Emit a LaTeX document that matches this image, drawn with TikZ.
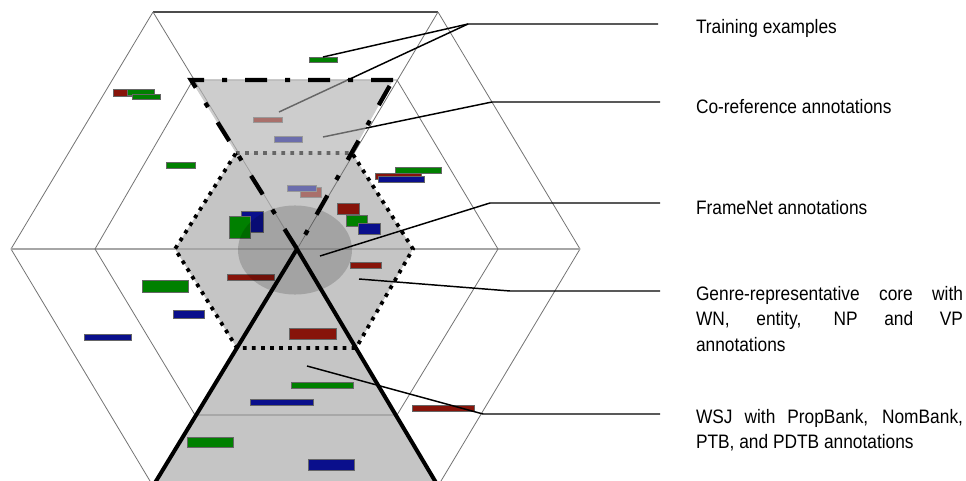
\documentclass[tikz,border=0pt]{standalone}
\usepackage{fontspec}
\setmainfont{Liberation Sans}[FakeStretch=0.89]
\usetikzlibrary{fit}
\definecolor{bgreen}{RGB}{0,128,0}
\definecolor{bblue}{RGB}{10,15,140}
\definecolor{bred}{RGB}{135,20,10}
\definecolor{fillgray}{RGB}{197,197,197}
\definecolor{topgray}{RGB}{207,207,207}
\newcommand{\cbar}[6]{\node[#1, fit={(#3,#4) (#5,#6)}] (#2) {};}
\begin{document}
\begin{tikzpicture}[x=0.75pt,y=-0.75pt,
  gridline/.style={draw=black!55, line width=0.6pt},
  midline/.style={draw=black!35, line width=1.1pt},
  topline/.style={draw=black!70, line width=0.9pt},
  hexfill/.style={fill=fillgray},
  topfill/.style={fill=topgray},
  bar/.style={rectangle, draw=black!60, line width=0.5pt, inner sep=0pt, outer sep=0pt},
  gbar/.style={bar, fill=bgreen},
  bbar/.style={bar, fill=bblue},
  rbar/.style={bar, fill=bred},
  leader/.style={draw=black, line width=1.1pt},
  veil/.style={fill=black!20, fill opacity=0.5},
  fnshade/.style={fill=black, fill opacity=0.17},
  dotborder/.style={draw=black, line width=2.8pt, dash pattern=on 2.8pt off 4pt},
  dashdotborder/.style={draw=black, line width=3.2pt, dash pattern=on 16.5pt off 13.5pt on 3.75pt off 13.5pt},
  wsjborder/.style={draw=black, line width=3pt},
  lab/.style={inner sep=0pt, outer sep=0pt, anchor=base west, font=\fontsize{14.6pt}{19.2pt}\selectfont}
]
\useasboundingbox (0,0) rectangle (966,481);
\clip (0,0) rectangle (966,481);

% key points
\coordinate (O) at (297,249);
\coordinate (ot1) at (153,12);  \coordinate (ot2) at (438,12);
\coordinate (or) at (580,249);  \coordinate (ol) at (11,249);
\coordinate (ob1) at (153,486); \coordinate (ob2) at (438,486);
\coordinate (it1) at (193,80);  \coordinate (it2) at (397,80);
\coordinate (ir) at (498,249);  \coordinate (il) at (95,249);
\coordinate (ib1) at (195,415); \coordinate (ib2) at (397,415);
\coordinate (d1) at (191,80);   \coordinate (d2) at (393,80);
\coordinate (h1) at (236,153);  \coordinate (h2) at (352,153);
\coordinate (h3) at (413,249);  \coordinate (h4) at (356,348);
\coordinate (h5) at (237,348);  \coordinate (h6) at (175,249);
\coordinate (w1) at (150,491);  \coordinate (w2) at (441,491);

% fills
\fill[hexfill] (h1)--(h2)--(h3)--(h4)--(h5)--(h6)--cycle;
\fill[hexfill] (O)--(w2)--(w1)--cycle;
\fill[topfill] (d1)--(d2)--(h2)--(h1)--cycle;

% grid lines
\draw[gridline] (ot2)--(or)--(ob2)--(ob1)--(ol)--(ot1);
\draw[topline] (ot1)--(ot2);
\draw[gridline] (ot1)--(O)--(ot2);
\draw[gridline] (ob1)--(O)--(ob2);
\draw[midline] (ol)--(or);
\draw[gridline] (it1)--(it2)--(ir)--(ib2)--(ib1)--(il)--cycle;

% bars
\cbar{rbar}{r1}{113}{89}{135}{96}
\cbar{gbar}{g2}{127}{89}{154}{95}
\cbar{gbar}{g3}{132}{94}{160}{99}
\cbar{gbar}{g1}{309}{57}{337}{62}
\cbar{gbar}{g4}{166}{162}{195}{168}
\cbar{rbar}{r2}{253}{117}{282}{122}
\cbar{bbar}{b1}{274}{136}{302}{142}
\cbar{rbar}{r3}{300}{187}{321}{197}
\cbar{bbar}{b2}{287}{185}{316}{191}
\cbar{rbar}{r4}{375}{173}{421}{179}
\cbar{gbar}{g5}{395}{167}{441}{173}
\cbar{bbar}{b3}{378}{176}{424}{182}
\cbar{bbar}{b4}{241}{211}{263}{232}
\cbar{gbar}{g6}{229}{216}{250}{238}
\cbar{rbar}{r5}{337}{203}{359}{214}
\cbar{gbar}{g7}{346}{215}{367}{226}
\cbar{bbar}{b5}{358}{223}{380}{234}
\cbar{rbar}{r6}{350}{262}{381}{268}
\cbar{rbar}{r7}{227}{274}{274}{280}
\cbar{gbar}{g8}{142}{280}{188}{292}
\cbar{bbar}{b6}{173}{310}{204}{318}
\cbar{bbar}{b7}{84}{334}{131}{340}
\cbar{rbar}{r8}{289}{328}{336}{339}
\cbar{gbar}{g9}{291}{382}{353}{388}
\cbar{bbar}{b8}{250}{399}{313}{405}
\cbar{rbar}{r9}{412}{405}{474}{411}
\cbar{gbar}{g10}{187}{437}{233}{447}
\cbar{bbar}{b9}{308}{459}{354}{470}

% leader coordinates
\coordinate (t1) at (468,24);  \coordinate (t2) at (658,24);  \coordinate (t3) at (279,112);
\coordinate (c0) at (323,137); \coordinate (c1) at (492,102); \coordinate (c2) at (660,102);
\coordinate (f0) at (320,256); \coordinate (f1) at (490,203); \coordinate (f2) at (660,203);
\coordinate (gr0) at (359,279);\coordinate (gr1) at (510,291);\coordinate (gr2) at (660,291);
\coordinate (ws0) at (307,366);\coordinate (ws1) at (483,414);\coordinate (ws2) at (660,414);

% leaders under the veil
\draw[leader] (g1.north)--(t1)--(t2);
\draw[leader] (t3)--(t1);
\draw[leader] (c0)--(c1)--(c2);

% dotted core hexagon
\draw[dotborder] (h1)--(h2)--(h3)--(h4)--(h5)--(h6)--cycle;

% translucent co-reference triangle
\fill[veil] (d1)--(d2)--(O)--cycle;

% FrameNet ellipse
\fill[fnshade] (295,250) ellipse [x radius=42.75pt, y radius=33.4pt];

% borders
\draw[dashdotborder] (d2)--(d1)--(O)--cycle;
\draw[wsjborder] (w1)--(O)--(w2);

% leaders on top
\draw[leader] (f0)--(f1)--(f2);
\draw[leader] (gr0)--(gr1)--(gr2);
\draw[leader] (ws0)--(ws1)--(ws2);

% labels
\node[lab] (ltrain) at (696,34) {Training examples};
\node[lab] (lcoref) at (696,114) {Co-reference annotations};
\node[lab] (lfn) at (696,214) {FrameNet annotations};
\node[lab] (lgenre) at (696,300) {\parbox[t]{200.25pt}{\makebox[\linewidth][s]{Genre-representative core with}\\\makebox[\linewidth][s]{WN, entity, NP and VP}\\annotations}};
\node[lab] (lwsj) at (696,423) {\parbox[t]{200.25pt}{\makebox[\linewidth][s]{WSJ with PropBank, NomBank,}\\PTB, and PDTB annotations}};
\end{tikzpicture}
\end{document}
